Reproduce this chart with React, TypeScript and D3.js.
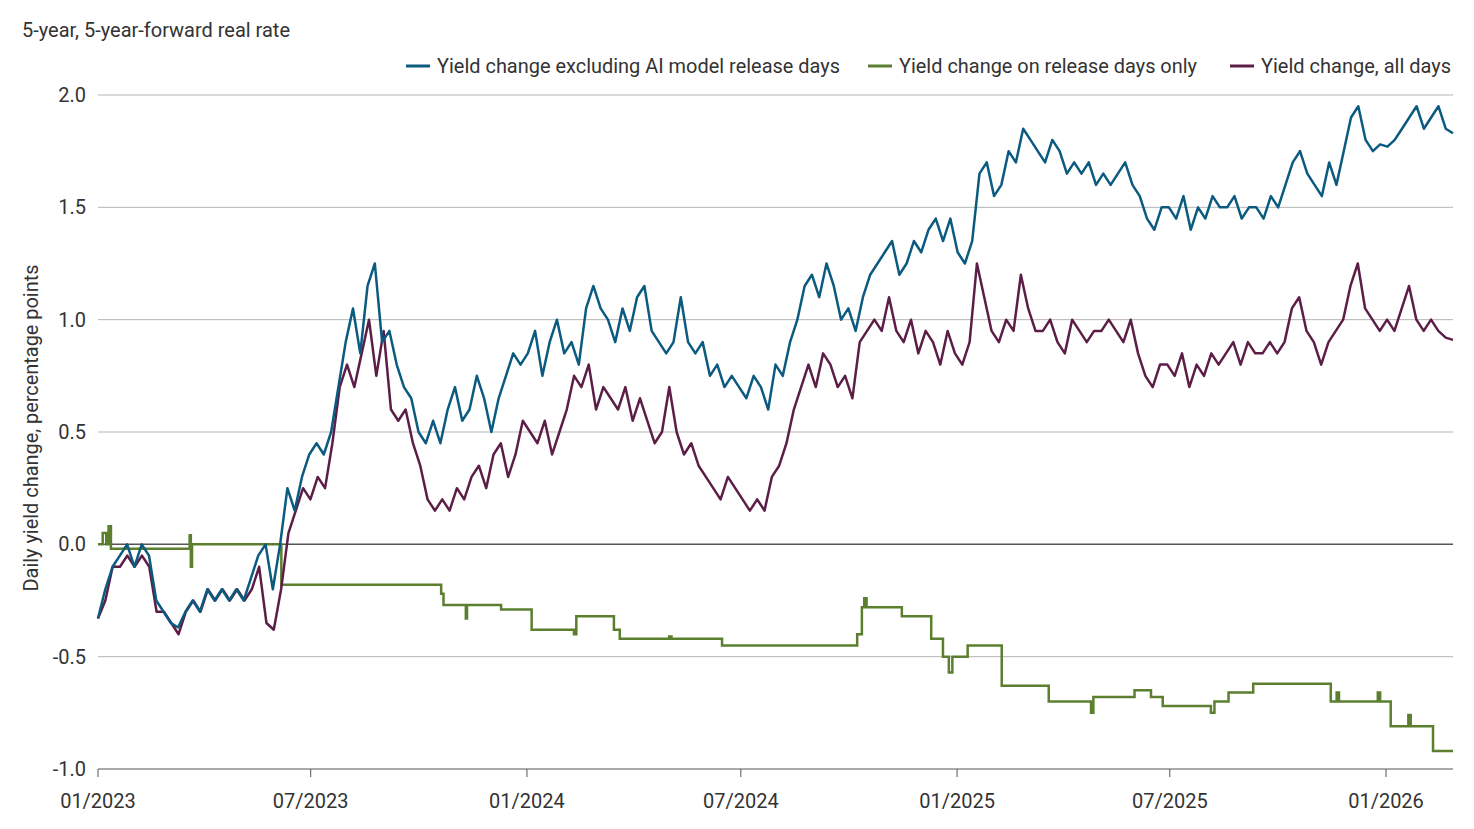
import * as d3 from 'd3'

const W = 1474
const H = 829
const MARGIN = { top: 95, right: 21, bottom: 60, left: 98 }
const FONT = "'Roboto', 'Liberation Sans', sans-serif"

const BLUE = '#0b5a80'
const GREEN = '#5b7f2e'
const PURPLE = '#5c1e47'
const GRID = '#b5b5b5'
const TEXT = '#333333'

const START = new Date(2023, 0, 1)
const END = new Date(2026, 1, 27)

// sampled roughly weekly, spread evenly from START to END
const blueValues = [
  -0.33, -0.2, -0.1, -0.05, 0.0, -0.1, 0.0, -0.05, -0.25, -0.3, -0.35, -0.37, -0.3, -0.25, -0.3, -0.2,
  -0.25, -0.2, -0.25, -0.2, -0.25, -0.15, -0.05, 0.0, -0.2, 0.0, 0.25, 0.15, 0.3, 0.4, 0.45, 0.4, 0.5, 0.7,
  0.9, 1.05, 0.85, 1.15, 1.25, 0.9, 0.95, 0.8, 0.7, 0.65, 0.5, 0.45, 0.55, 0.45, 0.6, 0.7, 0.55, 0.6,
  0.75, 0.65, 0.5, 0.65, 0.75, 0.85, 0.8, 0.85, 0.95, 0.75, 0.9, 1.0, 0.85, 0.9, 0.8, 1.05, 1.15, 1.05,
  1.0, 0.9, 1.05, 0.95, 1.1, 1.15, 0.95, 0.9, 0.85, 0.9, 1.1, 0.9, 0.85, 0.9, 0.75, 0.8, 0.7, 0.75,
  0.7, 0.65, 0.75, 0.7, 0.6, 0.8, 0.75, 0.9, 1.0, 1.15, 1.2, 1.1, 1.25, 1.15, 1.0, 1.05, 0.95, 1.1,
  1.2, 1.25, 1.3, 1.35, 1.2, 1.25, 1.35, 1.3, 1.4, 1.45, 1.35, 1.45, 1.3, 1.25, 1.35, 1.65, 1.7, 1.55,
  1.6, 1.75, 1.7, 1.85, 1.8, 1.75, 1.7, 1.8, 1.75, 1.65, 1.7, 1.65, 1.7, 1.6, 1.65, 1.6, 1.65, 1.7,
  1.6, 1.55, 1.45, 1.4, 1.5, 1.5, 1.45, 1.55, 1.4, 1.5, 1.45, 1.55, 1.5, 1.5, 1.55, 1.45, 1.5, 1.5,
  1.45, 1.55, 1.5, 1.6, 1.7, 1.75, 1.65, 1.6, 1.55, 1.7, 1.6, 1.75, 1.9, 1.95, 1.8, 1.75, 1.78, 1.77,
  1.8, 1.85, 1.9, 1.95, 1.85, 1.9, 1.95, 1.85, 1.83,
]

const purpleValues = [
  -0.33, -0.25, -0.1, -0.1, -0.05, -0.1, -0.05, -0.1, -0.3, -0.3, -0.35, -0.4, -0.3, -0.25, -0.3, -0.2,
  -0.25, -0.2, -0.25, -0.2, -0.25, -0.2, -0.1, -0.35, -0.38, -0.2, 0.05, 0.15, 0.25, 0.2, 0.3, 0.25, 0.45,
  0.7, 0.8, 0.7, 0.85, 1.0, 0.75, 0.95, 0.6, 0.55, 0.6, 0.45, 0.35, 0.2, 0.15, 0.2, 0.15, 0.25, 0.2,
  0.3, 0.35, 0.25, 0.4, 0.45, 0.3, 0.4, 0.55, 0.5, 0.45, 0.55, 0.4, 0.5, 0.6, 0.75, 0.7, 0.8, 0.6, 0.7,
  0.65, 0.6, 0.7, 0.55, 0.65, 0.55, 0.45, 0.5, 0.7, 0.5, 0.4, 0.45, 0.35, 0.3, 0.25, 0.2, 0.3, 0.25,
  0.2, 0.15, 0.2, 0.15, 0.3, 0.35, 0.45, 0.6, 0.7, 0.8, 0.7, 0.85, 0.8, 0.7, 0.75, 0.65, 0.9, 0.95,
  1.0, 0.95, 1.1, 0.95, 0.9, 1.0, 0.85, 0.95, 0.9, 0.8, 0.95, 0.85, 0.8, 0.9, 1.25, 1.1, 0.95, 0.9,
  1.0, 0.95, 1.2, 1.05, 0.95, 0.95, 1.0, 0.9, 0.85, 1.0, 0.95, 0.9, 0.95, 0.95, 1.0, 0.95, 0.9, 1.0,
  0.85, 0.75, 0.7, 0.8, 0.8, 0.75, 0.85, 0.7, 0.8, 0.75, 0.85, 0.8, 0.85, 0.9, 0.8, 0.9, 0.85, 0.85,
  0.9, 0.85, 0.9, 1.05, 1.1, 0.95, 0.9, 0.8, 0.9, 0.95, 1.0, 1.15, 1.25, 1.05, 1.0, 0.95, 1.0, 0.95,
  1.05, 1.15, 1.0, 0.95, 1.0, 0.95, 0.92, 0.91,
]

// step changes in the release-day series: [date, value]
const greenSteps: [string, number][] = [
  ['2023-01-01', 0.0], ['2023-01-05', 0.05], ['2023-01-08', 0.0], ['2023-01-10', 0.08], ['2023-01-12', -0.02],
  ['2023-03-20', 0.04], ['2023-03-21', -0.1], ['2023-03-22', 0.0], ['2023-06-03', 0.0], ['2023-06-06', -0.18],
  ['2023-10-20', -0.22], ['2023-10-22', -0.27], ['2023-11-10', -0.33], ['2023-11-11', -0.27], ['2023-12-10', -0.29],
  ['2024-01-05', -0.38], ['2024-02-10', -0.4], ['2024-02-12', -0.32], ['2024-03-15', -0.38], ['2024-03-20', -0.42],
  ['2024-05-01', -0.41], ['2024-05-03', -0.42], ['2024-06-15', -0.45], ['2024-10-08', -0.4], ['2024-10-12', -0.28],
  ['2024-10-14', -0.24], ['2024-10-16', -0.28], ['2024-11-15', -0.32], ['2024-12-10', -0.42], ['2024-12-20', -0.5],
  ['2024-12-25', -0.57], ['2024-12-28', -0.5], ['2025-01-10', -0.45], ['2025-02-08', -0.63], ['2025-03-20', -0.7],
  ['2025-04-25', -0.75], ['2025-04-27', -0.68], ['2025-06-01', -0.65], ['2025-06-15', -0.68], ['2025-06-25', -0.72],
  ['2025-08-05', -0.75], ['2025-08-08', -0.7], ['2025-08-20', -0.66], ['2025-09-10', -0.62], ['2025-11-15', -0.7],
  ['2025-11-20', -0.66], ['2025-11-22', -0.7], ['2025-12-25', -0.66], ['2025-12-27', -0.7], ['2026-01-05', -0.81],
  ['2026-01-20', -0.76], ['2026-01-22', -0.81], ['2026-02-10', -0.92], ['2026-02-27', -0.92],
]

const yTicks = [-1.0, -0.5, 0.0, 0.5, 1.0, 1.5, 2.0]
const xTicks = ['2023-01-01', '2023-07-01', '2024-01-01', '2024-07-01', '2025-01-01', '2025-07-01', '2026-01-01']

const legendItems = [
  { label: 'Yield change excluding AI model release days', color: BLUE, x: 406, len: 403 },
  { label: 'Yield change on release days only', color: GREEN, x: 868, len: 298 },
  { label: 'Yield change, all days', color: PURPLE, x: 1230, len: 190 },
]

type Pt = { date: Date; value: number }

const spread = (vals: number[]): Pt[] => {
  const t = d3.scaleLinear().domain([0, vals.length - 1]).range([+START, +END])
  return vals.map((v, i) => ({ date: new Date(t(i)), value: v }))
}

export default function App() {
  const x = d3.scaleTime().domain([START, END]).range([MARGIN.left, W - MARGIN.right])
  const y = d3.scaleLinear().domain([-1, 2]).range([H - MARGIN.bottom, MARGIN.top])
  const parse = d3.timeParse('%Y-%m-%d')
  const fmt = d3.timeFormat('%m/%Y')

  const line = d3.line<Pt>().x((d) => x(d.date)).y((d) => y(d.value))
  const stepLine = d3.line<Pt>().x((d) => x(d.date)).y((d) => y(d.value)).curve(d3.curveStepAfter)

  const blue = spread(blueValues)
  const purple = spread(purpleValues)
  const green = greenSteps.map(([d, v]) => ({ date: parse(d) as Date, value: v }))

  return (
    <svg width={W} height={H} style={{ display: 'block', position: 'absolute', left: 0, top: 0, background: '#fff' }}
      fontFamily={FONT}>
      <text x={22} y={37} fontSize={21} fill={TEXT} textLength={268} lengthAdjust="spacingAndGlyphs">
        5-year, 5-year-forward real rate
      </text>
      <text transform={`translate(38,428) rotate(-90)`} textAnchor="middle" fontSize={21} fill={TEXT}
        textLength={327} lengthAdjust="spacingAndGlyphs">
        Daily yield change, percentage points
      </text>

      {legendItems.map((l) => (
        <g key={l.label}>
          <line x1={l.x} x2={l.x + 24} y1={66} y2={66} stroke={l.color} strokeWidth={3} />
          <text x={l.x + 31} y={73} fontSize={21} fill={TEXT} textLength={l.len} lengthAdjust="spacingAndGlyphs">
            {l.label}
          </text>
        </g>
      ))}

      {yTicks.map((t) => (
        <g key={t}>
          {t !== -1 && (
            <line x1={MARGIN.left} x2={W - MARGIN.right} y1={y(t)} y2={y(t)}
              stroke={t === 0 ? '#555' : GRID} strokeWidth={t === 0 ? 1.5 : 1} />
          )}
          <text x={86} y={y(t) + 7} textAnchor="end" fontSize={20} fill={TEXT}>{t.toFixed(1)}</text>
        </g>
      ))}

      <line x1={MARGIN.left} x2={W - MARGIN.right} y1={y(-1)} y2={y(-1)} stroke="#555" />
      {xTicks.map((s) => {
        const d = parse(s) as Date
        return (
          <g key={s}>
            <line x1={x(d)} x2={x(d)} y1={y(-1)} y2={y(-1) + 8} stroke="#555" />
            <text x={x(d)} y={808} textAnchor="middle" fontSize={20} fill={TEXT}>{fmt(d)}</text>
          </g>
        )
      })}

      <path d={stepLine(green) ?? ''} fill="none" stroke={GREEN} strokeWidth={2.5} />
      <path d={line(purple) ?? ''} fill="none" stroke={PURPLE} strokeWidth={2.5} strokeLinejoin="round" />
      <path d={line(blue) ?? ''} fill="none" stroke={BLUE} strokeWidth={2.5} strokeLinejoin="round" />
    </svg>
  )
}
